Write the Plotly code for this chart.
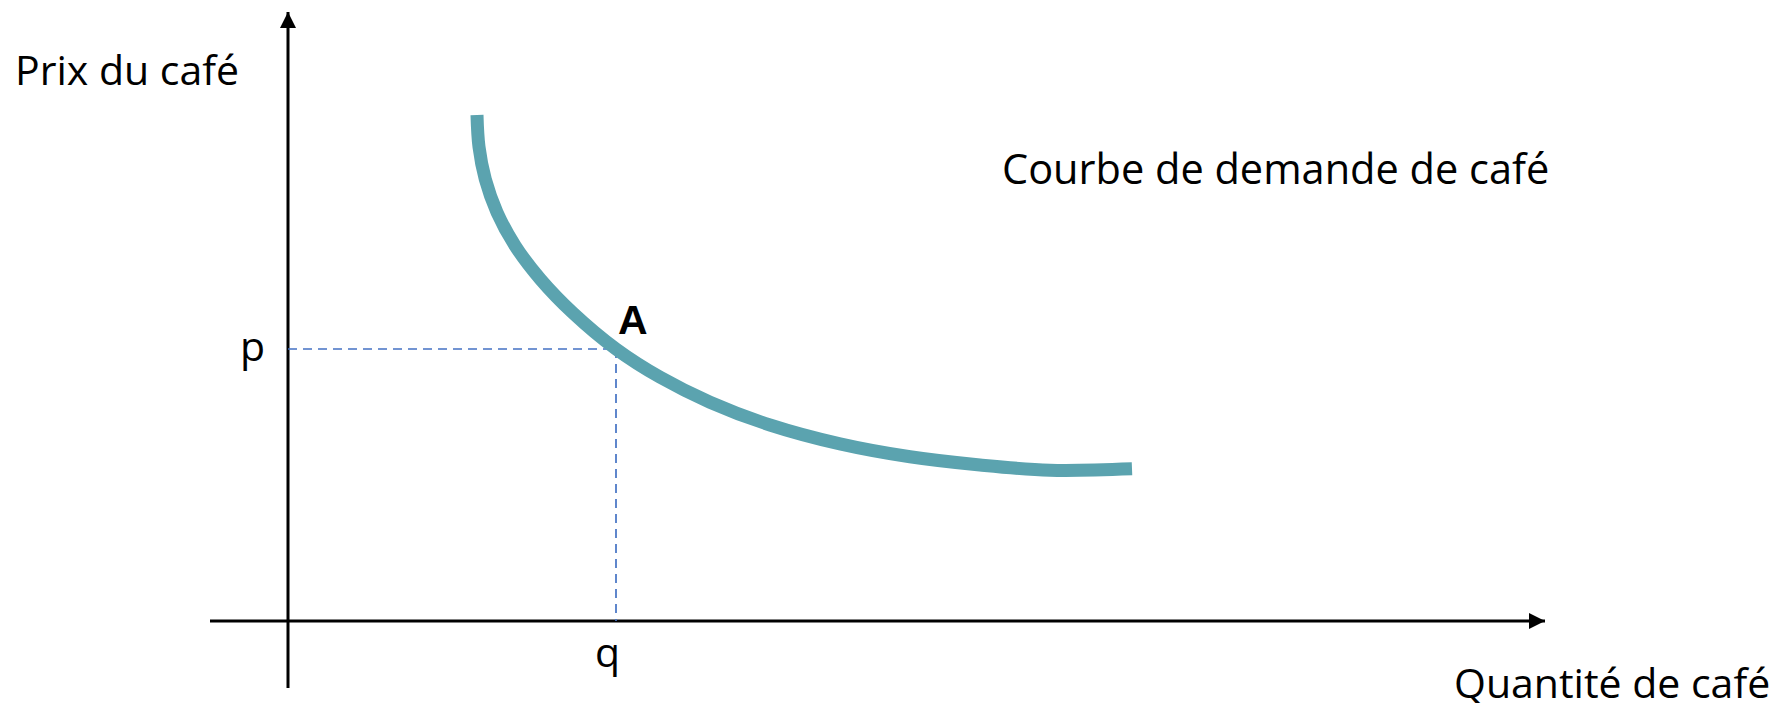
import plotly.graph_objects as go

# Demand curve (quantity, price in arbitrary units)
curve_q = [1.890, 1.910, 1.973, 2.090, 2.271, 2.524, 2.850, 3.280, 3.720,
           4.220, 4.820, 5.520, 6.220, 6.920, 7.620, 8.440]
curve_p = [5.060, 4.741, 4.417, 4.087, 3.753, 3.418, 3.080, 2.720, 2.438,
           2.188, 1.960, 1.771, 1.642, 1.560, 1.508, 1.522]

# Point A
point_q = 3.28
point_p = 2.72

# Axes extents
x_axis_start, x_axis_end = -0.78, 12.57
y_axis_start, y_axis_end = -0.67, 6.09

labels = {
    "y_title": "Prix du café",
    "x_title": "Quantité de café",
    "curve": "Courbe de demande de café",
    "p": "p",
    "q": "q",
    "A": "A",
}

BLACK = "#000000"
TEAL = "#5BA3AF"
DASH_BLUE = "#4472C4"
FONT = "Open Sans"

fig = go.Figure()

# Axes (lines)
fig.add_trace(go.Scatter(x=[x_axis_start, x_axis_end], y=[0, 0], mode="lines",
                         line=dict(color=BLACK, width=3), hoverinfo="skip"))
fig.add_trace(go.Scatter(x=[0, 0], y=[y_axis_start, y_axis_end], mode="lines",
                         line=dict(color=BLACK, width=3), hoverinfo="skip"))
# Arrow heads
fig.add_trace(go.Scatter(x=[x_axis_end], y=[0], mode="markers",
                         marker=dict(symbol="arrow-right", size=16, color=BLACK,
                                     line=dict(width=0)), hoverinfo="skip"))
fig.add_trace(go.Scatter(x=[0], y=[y_axis_end], mode="markers",
                         marker=dict(symbol="arrow-up", size=16, color=BLACK,
                                     line=dict(width=0)), hoverinfo="skip"))

# Dashed guide lines
fig.add_trace(go.Scatter(x=[0, point_q], y=[point_p, point_p], mode="lines",
                         line=dict(color=DASH_BLUE, width=1.7, dash="9px,6px"),
                         hoverinfo="skip"))
fig.add_trace(go.Scatter(x=[point_q, point_q], y=[point_p, 0], mode="lines",
                         line=dict(color=DASH_BLUE, width=1.7, dash="9px,6px"),
                         hoverinfo="skip"))

# Demand curve
fig.add_trace(go.Scatter(x=curve_q, y=curve_p, mode="lines",
                         line=dict(color=TEAL, width=13, shape="spline", smoothing=1.0),
                         hoverinfo="skip"))

txt = dict(family=FONT, size=41, color=BLACK)
ann = [
    dict(x=-2.75, y=5.52, text=labels["y_title"], xanchor="left", yanchor="middle", font=txt),
    dict(x=7.12, y=4.53, text=labels["curve"], xanchor="left", yanchor="middle",
         font=dict(family=FONT, size=41.5, color=BLACK)),
    dict(x=11.64, y=-0.61, text=labels["x_title"], xanchor="left", yanchor="middle", font=txt),
    dict(x=0, y=point_p, text=labels["p"], xanchor="center", yanchor="middle",
         xshift=-36, yshift=4, font=txt),
    dict(x=point_q, y=0, text=labels["q"], xanchor="center", yanchor="middle",
         xshift=-9, yshift=-30, font=txt),
    dict(x=point_q, y=point_p, text="<b>" + labels["A"] + "</b>", xanchor="center",
         yanchor="middle", xshift=17, yshift=29,
         font=dict(family="Liberation Sans", size=41, color=BLACK)),
]
for a in ann:
    a["showarrow"] = False
    a["xref"] = "x"
    a["yref"] = "y"
fig.update_layout(annotations=ann)

fig.update_layout(
    width=1780, height=703,
    margin=dict(l=0, r=0, t=0, b=0),
    paper_bgcolor="white", plot_bgcolor="white",
    showlegend=False,
    xaxis=dict(range=[-2.88, 14.92], visible=False, fixedrange=True),
    yaxis=dict(range=[-0.82, 6.21], visible=False, fixedrange=True),
)

fig.write_html(
    "out.html",
    config={"displayModeBar": False},
    post_script="document.body.style.margin='0';document.body.style.overflow='hidden';",
)
